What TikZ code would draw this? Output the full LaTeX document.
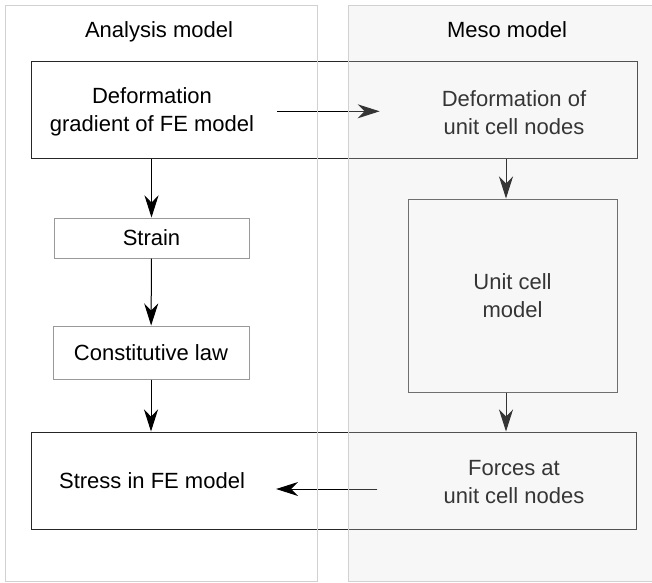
\documentclass[tikz,border=0pt]{standalone}
\usepackage{fontspec}
\setmainfont{Liberation Sans}
\usetikzlibrary{arrows.meta}
\tikzset{
  panelline/.style={draw=black!18, line width=1pt},
  box/.style={draw=#1, line width=1pt, fill=white, inner sep=0pt},
  box/.default={black!85},
  label/.style={align=center, inner sep=0pt, font=\fontsize{22}{28}\selectfont},
  arr/.style={-{Stealth[length=22pt, width=14pt, inset=7pt]}, line width=1pt, draw=black, fill=black},
}
\begin{document}
\begin{tikzpicture}[x=1pt, y=-1pt]
\useasboundingbox (0,0) rectangle (652,582);
\fill[white] (0,0) rectangle (652,582);

% axis of the meso column arrows
\coordinate (mesoaxis) at (506,0);

% process boxes
\node[box, minimum width=606pt, minimum height=97pt] (top) at (334,109.5) {};
\node[box=black!40, minimum width=195pt, minimum height=40pt, label] (strain) at (151.5,238) {Strain};
\node[box=black!40, minimum width=196pt, minimum height=53pt, label] (const) at (151,352.5) {Constitutive law};
\node[box=black!70, minimum width=209pt, minimum height=193pt, label] (unit) at (512.5,295.5) {Unit cell\\model};
\node[box, minimum width=605pt, minimum height=97pt] (bottom) at (333.5,480.5) {};

% texts inside the wide boxes
\node[label] (defgrad) at (152,112.3) {Deformation\\gradient of FE model};
\node[label] (defunit) at (514,113) {Deformation of\\unit cell nodes};
\node[label] (stress) at (152,481) {Stress in FE model};
\node[label] (forces) at (514,482) {Forces at\\unit cell nodes};

% connectors
\draw[arr, shorten <=23pt, shorten >=62pt] ([yshift=1pt]defgrad.east) -- ([yshift=1pt]defgrad.east -| defunit.west);
\draw[arr] (top.south -| strain) -- (strain.north);
\draw[arr] (strain) -- (const);
\draw[arr] (const.south) -- (const.south |- bottom.north);
\draw[arr] (top.south -| mesoaxis) -- (unit.north -| mesoaxis);
\draw[arr] (unit.south -| mesoaxis) -- (bottom.north -| mesoaxis);
\draw[arr, shorten <=66pt, shorten >=31pt] ([yshift=-7pt]forces.west) -- ([yshift=-7pt]forces.west -| stress.east);

% column panels, laid over the boxes
\draw[panelline] (5,5) rectangle (317,581);
\node[label] (head1) at (159,32.3) {Analysis model};
\fill[black!12.5, opacity=0.24] (348,5) rectangle (653,581);
\draw[panelline] (653,5) -- (348,5) -- (348,581) -- (653,581);
\node[label] (head2) at (507,30) {Meso model};
\end{tikzpicture}
\end{document}
